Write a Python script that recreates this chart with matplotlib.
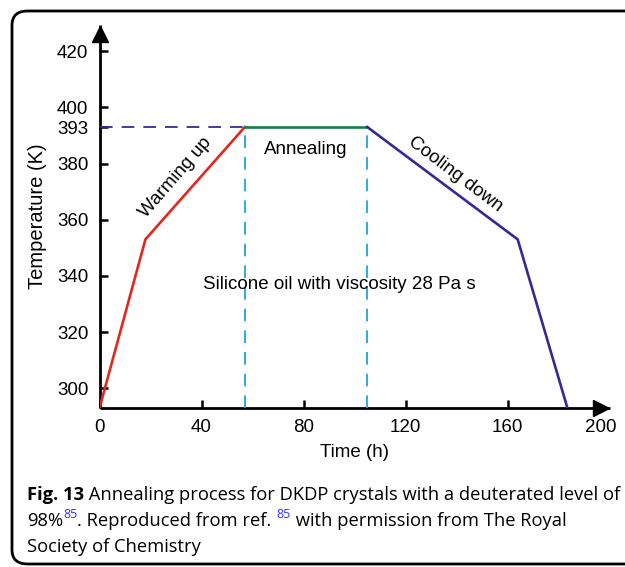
import matplotlib
matplotlib.use("Agg")
import matplotlib.pyplot as plt
from matplotlib.patches import FancyBboxPatch

# process segments (time in h, temperature in K)
warm_t = [0, 18, 57]
warm_T = [293, 353, 393]
anneal_t = [57, 105]
anneal_T = [393, 393]
cool_t = [105, 164, 183.5]
cool_T = [393, 353, 293]

xticks = [0, 40, 80, 120, 160]
xmax_label = "200"
yticks = [300, 320, 340, 360, 380, 393, 400, 420]

RED = "#e2271d"
GREEN = "#12804a"
BLUE = "#332a96"
CYAN = "#1ba6d8"

plt.rcParams["font.family"] = ["Liberation Sans", "DejaVu Sans"]

fig = plt.figure(figsize=(6.25, 5.67), dpi=100)
ax = fig.add_axes([99.5 / 625, 1 - 408 / 567, 510 / 625, 383 / 567])

ax.plot(warm_t, warm_T, color=RED, lw=1.9, solid_joinstyle="miter", zorder=4)
ax.plot(anneal_t, anneal_T, color=GREEN, lw=1.9, zorder=4)
ax.plot(cool_t, cool_T, color=BLUE, lw=1.9, solid_joinstyle="miter", zorder=4)

# guide lines
ax.plot([0, anneal_t[0]], [anneal_T[0]] * 2, color=BLUE, lw=1.3, dashes=(7, 5), zorder=3)
for t in anneal_t:
    ax.plot([t, t], [warm_T[0], anneal_T[0]], color=CYAN, lw=1.3, dashes=(7, 5), zorder=3)

ax.set_xlim(0, 200)
ax.set_ylim(293, 429.3)
ax.set_xticks(xticks)
ax.set_yticks(yticks)
ax.tick_params(direction="in", length=6, width=1.8, labelsize=13.5, pad=8)
ax.annotate(xmax_label, xy=(200, 293), xytext=(-6, -8), textcoords="offset points",
            ha="center", va="top", fontsize=13.5)
for s in ["top", "right"]:
    ax.spines[s].set_visible(False)
for s in ["left", "bottom"]:
    ax.spines[s].set_linewidth(2)
    ax.spines[s].set_capstyle("butt")

ax.plot(0, 1 - 8.5 / 383, marker="^", color="k", markersize=12,
        transform=ax.transAxes, clip_on=False, zorder=6)
ax.plot(1 - 8.5 / 510, 0, marker=">", color="k", markersize=12,
        transform=ax.transAxes, clip_on=False, zorder=6)

ax.set_xlabel("Time (h)", fontsize=13.5, labelpad=6)
ax.set_ylabel("Temperature (K)", fontsize=14.5, labelpad=7)

ax.text(30, 375, "Warming up", fontsize=13.5, rotation=49, ha="center", va="center")
ax.text(81, 385, "Annealing", fontsize=13.5, ha="center", va="center")
ax.text(139.4, 376.3, "Cooling down", fontsize=13.5, rotation=-37, ha="center", va="center")
ax.text(94, 337, "Silicone oil with viscosity 28 Pa s", fontsize=13.5,
        ha="center", va="center")

# caption
cap_font = ["Open Sans", "DejaVu Sans"]
renderer = fig.canvas.get_renderer()


def put_line(parts, x0, y0):
    x = x0
    for txt, kw in parts:
        dy = kw.pop("dy", 0)
        t = fig.text(x / 625, 1 - (y0 - dy) / 567, txt, family=cap_font,
                     va="baseline", ha="left", **kw)
        bb = t.get_window_extent(renderer)
        x += bb.width


cs = 13.2
put_line([("Fig. 13", dict(fontsize=cs, weight="bold")),
          (" Annealing process for DKDP crystals with a deuterated level of",
           dict(fontsize=cs))], 27, 500)
put_line([("98%", dict(fontsize=cs)),
          ("85", dict(fontsize=9, color="#3333ff", dy=8)),
          (". Reproduced from ref. ", dict(fontsize=cs)),
          ("85", dict(fontsize=9, color="#3333ff", dy=8)),
          (" with permission from The Royal", dict(fontsize=cs))], 27, 526)
put_line([("Society of Chemistry", dict(fontsize=cs))], 27, 552)

frame = FancyBboxPatch((12 / 625, 1 - 564 / 567), 640 / 625, 553 / 567,
                       boxstyle="round,pad=0,rounding_size=0.025",
                       transform=fig.transFigure, fill=False, lw=2,
                       edgecolor="k", clip_on=False)
fig.patches.append(frame)

fig.savefig("out.png", dpi=100)
